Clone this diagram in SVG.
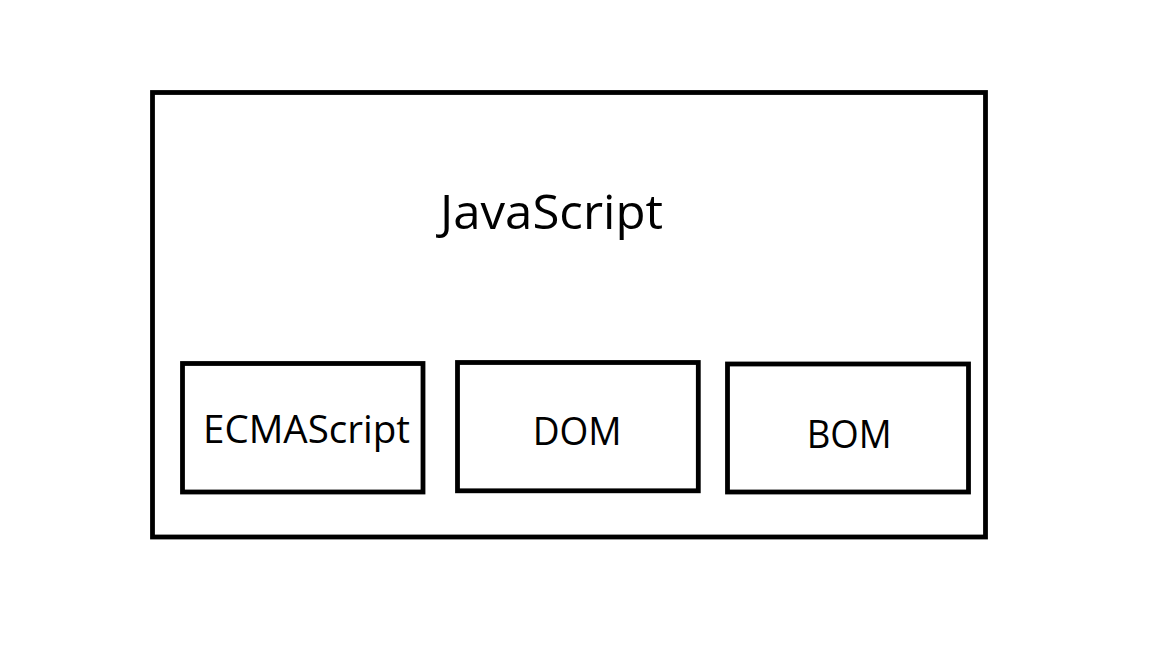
<svg xmlns="http://www.w3.org/2000/svg" width="1152" height="648" viewBox="0 0 1152 648">
<style>
.box{fill:none;stroke:#000;stroke-width:4.8}
.lbl{font-family:"Open Sans","Noto Sans","DejaVu Sans",sans-serif;fill:#000}
</style>
<rect width="1152" height="648" fill="#fff"/>
<g id="javascript">
<rect class="box" x="152.5" y="92.5" width="833" height="444.5"/>
<text class="lbl" x="440" y="229" font-size="47" textLength="223" lengthAdjust="spacingAndGlyphs">JavaScript</text>
</g>
<g id="ecmascript">
<rect class="box" x="182.5" y="363.5" width="240.5" height="128.5"/>
<text class="lbl" x="203" y="442.7" font-size="37.5" textLength="207" lengthAdjust="spacingAndGlyphs">ECMAScript</text>
</g>
<g id="dom">
<rect class="box" x="457.5" y="362.5" width="240.8" height="128.3"/>
<text class="lbl" x="532.7" y="445" font-size="37.5" textLength="89" lengthAdjust="spacingAndGlyphs">DOM</text>
</g>
<g id="bom">
<rect class="box" x="727.5" y="364" width="241" height="128"/>
<text class="lbl" x="806.7" y="448" font-size="37.5" textLength="85" lengthAdjust="spacingAndGlyphs">BOM</text>
</g>
<g id="connectors"></g>
</svg>
